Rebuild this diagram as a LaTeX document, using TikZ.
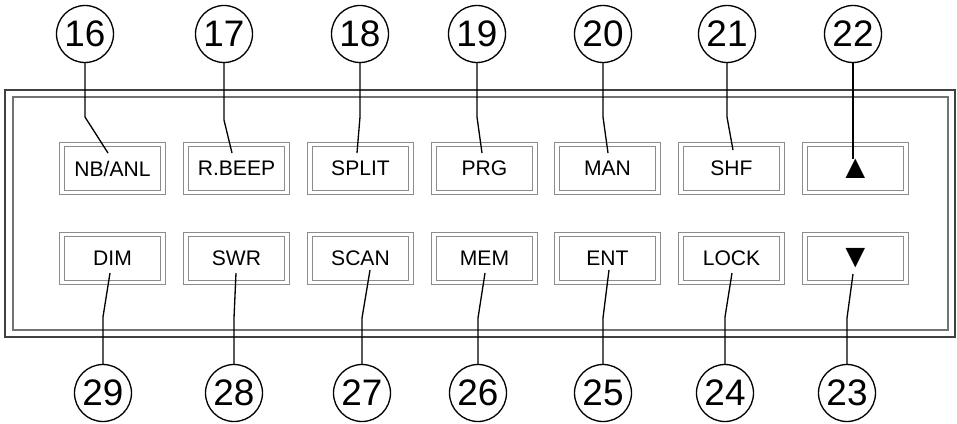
\documentclass[tikz,border=0pt]{standalone}
\usepackage{fontspec}
\setmainfont{Liberation Sans}
\usepackage{tikz}

\begin{document}
\begin{tikzpicture}[x=0.02cm,y=-0.02cm,
  key/.style={draw=black!45,line width=0.5pt,double=white,double distance=2.2pt,
    minimum width=2.02cm,minimum height=0.96cm,inner sep=0pt,
    font=\fontsize{12}{14}\selectfont},
  arrowkey/.style={key,font=\fontsize{19}{20}\selectfont},
  num/.style={circle,draw,line width=0.75pt,minimum size=1.14cm,inner sep=0pt,
    font=\fontsize{21}{24}\selectfont},
  leader/.style={line width=0.75pt}]
\useasboundingbox (0,0) rectangle (957,423);

\draw[line width=1.3pt,black!75] (5,90) rectangle (955,337);
\draw[line width=0.6pt,black!55] (13,97) rectangle (948,330);

\node[key] at (112.5,168.5) (b16) {NB/ANL};
\node[key] at (236.5,168.5) (b17) {R.BEEP};
\node[key] at (360.5,168.5) (b18) {SPLIT};
\node[key] at (484.5,168.5) (b19) {PRG};
\node[key] at (607.5,168.5) (b20) {MAN};
\node[key] at (731.5,168.5) (b21) {SHF};
\node[arrowkey] at (855.5,168.5) (b22) {▲};

\node[key] at (112.5,258.5) (b29) {DIM};
\node[key] at (236.5,258.5) (b28) {SWR};
\node[key] at (360.5,258.5) (b27) {SCAN};
\node[key] at (484.5,258.5) (b26) {MEM};
\node[key] at (607.5,258.5) (b25) {ENT};
\node[key] at (731.5,258.5) (b24) {LOCK};
\node[arrowkey] at (855.5,258.5) (b23) {▼};

\node[num] at (85,34) (c16) {16};
\node[num] at (224,34) (c17) {17};
\node[num] at (360,34) (c18) {18};
\node[num] at (477,34) (c19) {19};
\node[num] at (603,34) (c20) {20};
\node[num] at (727,34) (c21) {21};
\node[num] at (853,34) (c22) {22};

\node[num] at (103,393) (c29) {29};
\node[num] at (234,393) (c28) {28};
\node[num] at (362,393) (c27) {27};
\node[num] at (478,393) (c26) {26};
\node[num] at (603,393) (c25) {25};
\node[num] at (725,393) (c24) {24};
\node[num] at (847,393) (c23) {23};

\coordinate (k16) at (85,117);
\coordinate (k17) at (224,120);
\coordinate (k18) at (360,117);
\coordinate (k19) at (477,117);
\coordinate (k20) at (603,117);
\coordinate (k21) at (727,117);
\coordinate (e16) at (108,153);
\coordinate (e17) at (232,153);
\coordinate (e18) at (357,153);
\coordinate (e19) at (482,153);
\coordinate (e20) at (608,153);
\coordinate (e21) at (733,150);
\coordinate (e22) at (853,159);

\coordinate (k29) at (103,317);
\coordinate (k28) at (234,318);
\coordinate (k27) at (362,318);
\coordinate (k26) at (478,318);
\coordinate (k25) at (603,318);
\coordinate (k24) at (725,317);
\coordinate (k23) at (847,318);
\coordinate (e29) at (110,273);
\coordinate (e28) at (236,273);
\coordinate (e27) at (370,270);
\coordinate (e26) at (485,273);
\coordinate (e25) at (609,270);
\coordinate (e24) at (732,273);
\coordinate (e23) at (853,274);

\draw[leader] (c16) -- (k16) -- (e16);
\draw[leader] (c17) -- (k17) -- (e17);
\draw[leader] (c18) -- (k18) -- (e18);
\draw[leader] (c19) -- (k19) -- (e19);
\draw[leader] (c20) -- (k20) -- (e20);
\draw[leader] (c21) -- (k21) -- (e21);
\draw[leader] (c22) -- (e22);

\draw[leader] (e29) -- (k29) -- (c29);
\draw[leader] (e28) -- (k28) -- (c28);
\draw[leader] (e27) -- (k27) -- (c27);
\draw[leader] (e26) -- (k26) -- (c26);
\draw[leader] (e25) -- (k25) -- (c25);
\draw[leader] (e24) -- (k24) -- (c24);
\draw[leader] (e23) -- (k23) -- (c23);
\end{tikzpicture}
\end{document}
